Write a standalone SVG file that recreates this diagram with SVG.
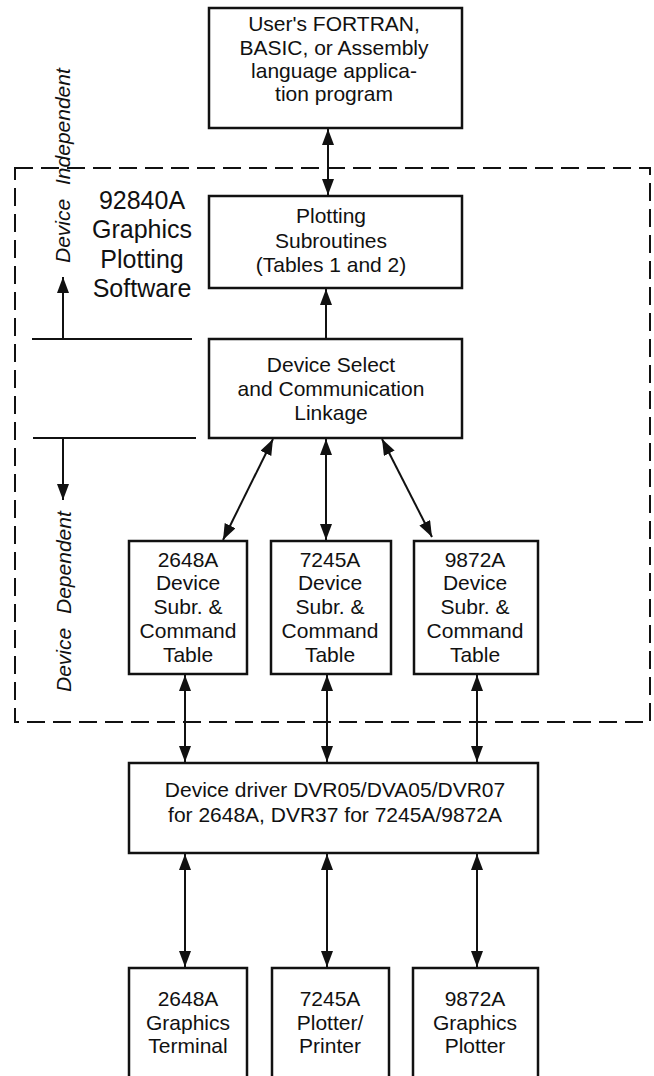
<svg xmlns="http://www.w3.org/2000/svg" width="654" height="1076" viewBox="0 0 654 1076">
<style>
.box{fill:#fff;stroke:#111;stroke-width:2.5}
.t{font-family:"Liberation Sans",Arial,Helvetica,sans-serif;font-size:21px;text-anchor:middle;fill:#111}
.big{font-size:25px}
.side{font-family:"Liberation Sans",Arial,Helvetica,sans-serif;font-size:21px;font-style:italic;fill:#111;word-spacing:8px}
.c{fill:none;stroke:#111;stroke-width:2}
.dash{fill:none;stroke:#111;stroke-width:2;stroke-dasharray:18 8}
</style>
<defs>
<marker id="ah" viewBox="0 0 16 12" refX="16" refY="6" markerWidth="16" markerHeight="12" markerUnits="userSpaceOnUse" orient="auto-start-reverse">
<path d="M0,0 L16,6 L0,12 z" fill="#111"/>
</marker>
</defs>
<g id="software-boundary">
<rect class="dash" x="15" y="168" width="635" height="554"/>
</g>
<g id="label-92840A">
<text class="t big" x="142" y="209">92840A</text>
<text class="t big" x="142" y="238">Graphics</text>
<text class="t big" x="142" y="268">Plotting</text>
<text class="t big" x="142" y="297">Software</text>
</g>
<g id="label-independent">
<text class="side" transform="translate(70,263) rotate(-90)">Device Independent</text>
</g>
<g id="label-dependent">
<text class="side" transform="translate(71,692) rotate(-90)">Device Dependent</text>
</g>
<g id="separators">
<line class="c" x1="32" y1="339" x2="192" y2="339"/>
<line class="c" x1="33" y1="438" x2="196" y2="438"/>
</g>
<g id="user-program">
<rect class="box" x="209" y="8" width="253" height="120"/>
<text class="t" x="334" y="31">User's FORTRAN,</text>
<text class="t" x="334" y="55">BASIC, or Assembly</text>
<text class="t" x="334" y="78">language applica-</text>
<text class="t" x="334" y="101">tion program</text>
</g>
<g id="plotting-subroutines">
<rect class="box" x="209" y="196" width="253" height="92"/>
<text class="t" x="331" y="223">Plotting</text>
<text class="t" x="331" y="248">Subroutines</text>
<text class="t" x="331" y="272">(Tables 1 and 2)</text>
</g>
<g id="device-select">
<rect class="box" x="209" y="339" width="253" height="99"/>
<text class="t" x="331" y="372">Device Select</text>
<text class="t" x="331" y="396">and Communication</text>
<text class="t" x="331" y="420">Linkage</text>
</g>
<g id="dev-2648A">
<rect class="box" x="129" y="541" width="118" height="133"/>
<text class="t" x="188" y="567">2648A</text>
<text class="t" x="188" y="590">Device</text>
<text class="t" x="188" y="614">Subr. &amp;</text>
<text class="t" x="188" y="638">Command</text>
<text class="t" x="188" y="662">Table</text>
</g>
<g id="dev-7245A">
<rect class="box" x="271" y="541" width="120" height="133"/>
<text class="t" x="330" y="567">7245A</text>
<text class="t" x="330" y="590">Device</text>
<text class="t" x="330" y="614">Subr. &amp;</text>
<text class="t" x="330" y="638">Command</text>
<text class="t" x="330" y="662">Table</text>
</g>
<g id="dev-9872A">
<rect class="box" x="414" y="541" width="124" height="133"/>
<text class="t" x="475" y="567">9872A</text>
<text class="t" x="475" y="590">Device</text>
<text class="t" x="475" y="614">Subr. &amp;</text>
<text class="t" x="475" y="638">Command</text>
<text class="t" x="475" y="662">Table</text>
</g>
<g id="device-driver">
<rect class="box" x="129" y="763" width="409" height="90"/>
<text class="t" x="335" y="797">Device driver DVR05/DVA05/DVR07</text>
<text class="t" x="335" y="822">for 2648A, DVR37 for 7245A/9872A</text>
</g>
<g id="terminal-2648A">
<rect class="box" x="129" y="968" width="118" height="120"/>
<text class="t" x="188" y="1006">2648A</text>
<text class="t" x="188" y="1030">Graphics</text>
<text class="t" x="188" y="1053">Terminal</text>
</g>
<g id="plotter-7245A">
<rect class="box" x="272" y="968" width="117" height="120"/>
<text class="t" x="330" y="1006">7245A</text>
<text class="t" x="330" y="1030">Plotter/</text>
<text class="t" x="330" y="1053">Printer</text>
</g>
<g id="plotter-9872A">
<rect class="box" x="413" y="968" width="125" height="120"/>
<text class="t" x="475" y="1006">9872A</text>
<text class="t" x="475" y="1030">Graphics</text>
<text class="t" x="475" y="1053">Plotter</text>
</g>
<g id="connectors">
<line class="c" x1="328" y1="129" x2="328" y2="195" marker-start="url(#ah)" marker-end="url(#ah)"/>
<line class="c" x1="326" y1="338" x2="326" y2="289" marker-end="url(#ah)"/>
<line class="c" x1="63" y1="339" x2="63" y2="277" marker-end="url(#ah)"/>
<line class="c" x1="63" y1="438" x2="63" y2="500" marker-end="url(#ah)"/>
<line class="c" x1="273" y1="439" x2="223" y2="540" marker-start="url(#ah)" marker-end="url(#ah)"/>
<line class="c" x1="326" y1="439" x2="326" y2="540" marker-start="url(#ah)" marker-end="url(#ah)"/>
<line class="c" x1="382" y1="439" x2="432" y2="537" marker-start="url(#ah)" marker-end="url(#ah)"/>
<line class="c" x1="185" y1="675" x2="185" y2="762" marker-start="url(#ah)" marker-end="url(#ah)"/>
<line class="c" x1="327" y1="675" x2="327" y2="762" marker-start="url(#ah)" marker-end="url(#ah)"/>
<line class="c" x1="477" y1="675" x2="477" y2="762" marker-start="url(#ah)" marker-end="url(#ah)"/>
<line class="c" x1="185" y1="854" x2="185" y2="967" marker-start="url(#ah)" marker-end="url(#ah)"/>
<line class="c" x1="327" y1="854" x2="327" y2="967" marker-start="url(#ah)" marker-end="url(#ah)"/>
<line class="c" x1="477" y1="854" x2="477" y2="967" marker-start="url(#ah)" marker-end="url(#ah)"/>
</g>
</svg>
